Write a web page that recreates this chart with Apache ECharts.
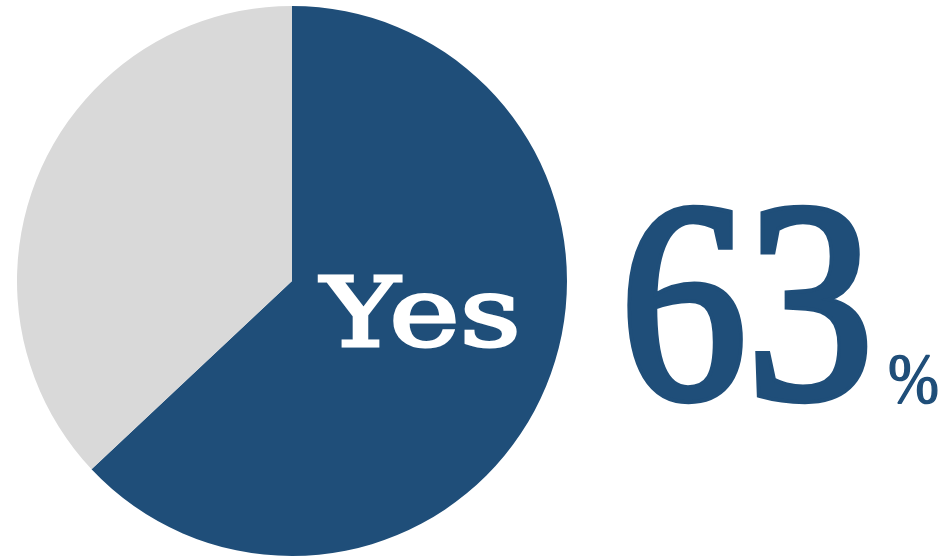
<!DOCTYPE html>
<html><head><meta charset="utf-8">
<script src="https://cdn.jsdelivr.net/npm/echarts@6/dist/echarts.min.js"></script>
<style>html,body{margin:0;padding:0;background:#fff}#c{width:946px;height:556px}</style>
</head><body><div id="c"></div>
<script>
const categories = ['Yes', 'No'];
const values = [63, 37];
const colors = ['#1F4E79', '#D9D9D9'];

const chart = echarts.init(document.getElementById('c'));
const total = values.reduce((a, b) => a + b, 0);
const pct = Math.round(values[0] / total * 100);
chart.setOption({
  animation: false,
  series: [{
    type: 'pie',
    center: [292, 281],
    radius: [0, 275],
    startAngle: 90,
    clockwise: true,
    label: { show: false },
    labelLine: { show: false },
    emphasis: { disabled: true },
    itemStyle: { borderWidth: 0 },
    data: categories.map((c, i) => ({ name: c, value: values[i], itemStyle: { color: colors[i] } }))
  }],
  graphic: [
    { type: 'text', z: 100, x: 321, y: 369, scaleX: 1.24, style: { text: categories[0], fill: '#fff', stroke: '#fff', lineWidth: 3, font: '96px "DejaVu Serif"', textAlign: 'left', textVerticalAlign: 'bottom' } },
    { type: 'text', z: 100, x: 620, y: 465, scaleX: 0.89, style: { text: String(pct), fill: colors[0], stroke: colors[0], lineWidth: 8, font: '285px "Liberation Serif"', textAlign: 'left', textVerticalAlign: 'bottom' } },
    { type: 'text', z: 100, x: 888, y: 420, scaleX: 0.85, style: { text: '%', fill: colors[0], stroke: colors[0], lineWidth: 1.5, font: '72px "Liberation Serif"', textAlign: 'left', textVerticalAlign: 'bottom' } }
  ]
});
</script></body></html>
